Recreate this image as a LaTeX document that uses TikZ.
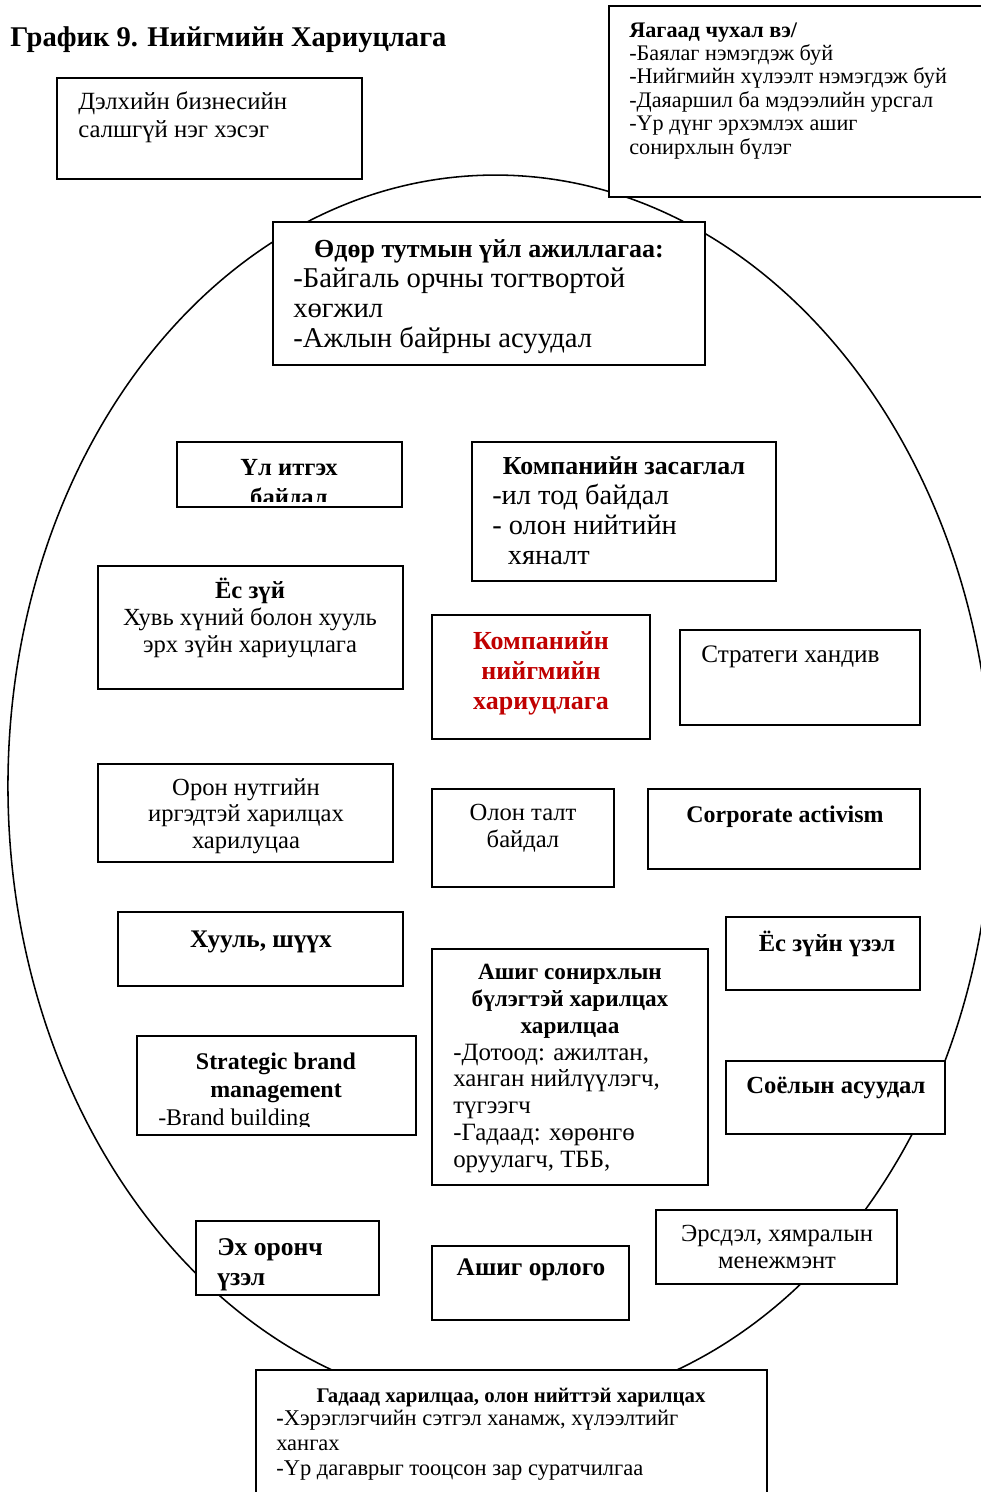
\documentclass[tikz,border=0pt]{standalone}
\usepackage{fontspec}
\setmainfont{Liberation Serif}
\usetikzlibrary{fit}
\definecolor{csrred}{RGB}{192,0,0}

\begin{document}
\begin{tikzpicture}[x=0.025cm,y=-0.025cm,
   frame/.style={draw,line width=1.4pt,fill=white,inner sep=0pt},
   txt/.style 2 args={font=\fontsize{#1}{#2}\selectfont,inner sep=0pt},
   btxt/.style 2 args={font=\fontsize{#1}{#2}\selectfont\bfseries,inner sep=0pt}]
\useasboundingbox (0,0) rectangle (980,1492);
\fill[white] (0,0) rectangle (980,1492);
\draw[line width=1.1pt,rotate around={1.2:(500,792)}] (500,792) ellipse [x radius=492,y radius=617];

\node[btxt={20.3}{24},anchor=base west] (title) at (10,47) {График 9. Нийгмийн Хариуцлага};

\node[frame,fit={(57,78) (362,179)}] (globe) {};
\node[txt={17.6}{20},anchor=base west,align=left] (globet) at (78,138) {Дэлхийн бизнесийн\\салшгүй нэг хэсэг};

\node[frame,fit={(609,6) (995,197)}] (why) {};
\node[txt={15.8}{16.6},anchor=base west,align=left] (whyt) at (629,154)
   {\textbf{Яагаад чухал вэ/}\\-Баялаг нэмэгдэж буй\\-Нийгмийн хүлээлт нэмэгдэж буй\\-Даяаршил ба мэдээлийн урсгал\\-Үр дүнг эрхэмлэх ашиг\\сонирхлын бүлэг};

\node[frame,fit={(273,222) (705,365)}] (daily) {};
\node[btxt={18.5}{21.3},anchor=base] (dailyh) at (489,257) {Өдөр тутмын үйл ажиллагаа:};
\node[txt={20.4}{21.3},anchor=base west,align=left] (dailyt) at (293,347)
   {-Байгаль орчны тогтвортой\\хөгжил\\-Ажлын байрны асуудал};

\node[frame,fit={(177,442) (402,507)}] (distrust) {};
\begin{scope}
   \clip (distrust.north west) rectangle ([yshift=4.3pt]distrust.south east);
   \node[btxt={17.5}{21.3},anchor=base,align=center] (distrustt) at (289,505) {Үл итгэх\\байдал};
\end{scope}

\node[frame,fit={(472,442) (776,581)}] (govern) {};
\node[btxt={18.4}{21.3},anchor=base] (governh) at (624,474) {Компанийн засаглал};
\node[txt={20.2}{21.3},anchor=base west,align=left] (governt) at (492,564)
   {-ил тод байдал\\- олон нийтийн\\\hspace{0.55em}хяналт};

\node[frame,fit={(98,566) (403,689)}] (ethic) {};
\node[txt={17.5}{19.2},anchor=base,align=center] (ethict) at (250,652)
   {\textbf{Ёс зүй}\\Хувь хүний болон хууль\\эрх зүйн хариуцлага};

\node[frame,fit={(432,615) (650,739)}] (csr) {};
\node[btxt={18.5}{21},text=csrred,anchor=base,align=center] (csrt) at (541,709)
   {Компанийн\\нийгмийн\\хариуцлага};

\node[frame,fit={(680,630) (920,725)}] (donate) {};
\node[txt={17.9}{19.2},anchor=base west] (donatet) at (701,662) {Стратеги хандив};

\node[frame,fit={(98,764) (393,862)}] (local) {};
\node[txt={17.5}{18.8},anchor=base,align=center] (localt) at (246,848)
   {Орон нутгийн\\иргэдтэй харилцах\\харилуцаа};

\node[frame,fit={(432,789) (614,887)}] (divers) {};
\node[txt={17.5}{19.2},anchor=base,align=center] (diverst) at (523,847) {Олон талт\\байдал};

\node[frame,fit={(648,789) (920,869)}] (activ) {};
\node[btxt={17}{19.2},anchor=base] (activt) at (785,822) {Corporate activism};

\node[frame,fit={(118,912) (403,986)}] (law) {};
\node[btxt={18}{20},anchor=base] (lawt) at (261,947) {Хууль, шүүх};

\node[frame,fit={(432,949) (708,1185)}] (stake) {};
\node[btxt={16.5}{19},anchor=base,align=center] (stakeh) at (570,1033)
   {Ашиг сонирхлын\\бүлэгтэй харилцах\\харилцаа};
\node[txt={17.7}{19},anchor=base west,align=left] (staket) at (453,1167)
   {-Дотоод: ажилтан,\\ханган нийлүүлэгч,\\түгээгч\\-Гадаад: хөрөнгө\\оруулагч, ТББ,};

\node[frame,fit={(726,917) (920,990)}] (ethview) {};
\node[btxt={17.5}{20},anchor=base] (ethviewt) at (827,951) {Ёс зүйн үзэл};

\node[frame,fit={(137,1036) (416,1135)}] (brand) {};
\begin{scope}
   \clip (brand.north west) rectangle ([yshift=6.4pt]brand.south east);
   \node[btxt={17}{19.7},anchor=base,align=center] (brandh) at (276,1097) {Strategic brand\\management};
   \node[txt={17}{19.7},anchor=base west] (brandt) at (158,1125) {-Brand building};
\end{scope}

\node[frame,fit={(726,1061) (945,1134)}] (culture) {};
\node[btxt={17.5}{20},anchor=base] (culturet) at (836,1093) {Соёлын асуудал};

\node[frame,fit={(196,1221) (379,1295)}] (patriot) {};
\node[btxt={18.2}{21.3},anchor=base west,align=left] (patriott) at (217,1285) {Эх оронч\\үзэл};

\node[frame,fit={(432,1246) (629,1320)}] (profit) {};
\node[btxt={18}{20},anchor=base] (profitt) at (531,1275) {Ашиг орлого};

\node[frame,fit={(656,1210) (897,1284)}] (risk) {};
\node[txt={17.5}{19.2},anchor=base,align=center] (riskt) at (777,1268) {Эрсдэл, хямралын\\менежмэнт};

\node[frame,fit={(256,1370) (767,1510)}] (extern) {};
\node[btxt={14.8}{17.5},anchor=base] (externh) at (511,1402) {Гадаад харилцаа, олон нийттэй харилцах};
\node[txt={16}{17.5},anchor=base west,align=left] (externt) at (276,1475)
   {\textbf{-}Хэрэглэгчийн сэтгэл ханамж, хүлээлтийг\\хангах\\-Үр дагаврыг тооцсон зар суратчилгаа};
\end{tikzpicture}
\end{document}
